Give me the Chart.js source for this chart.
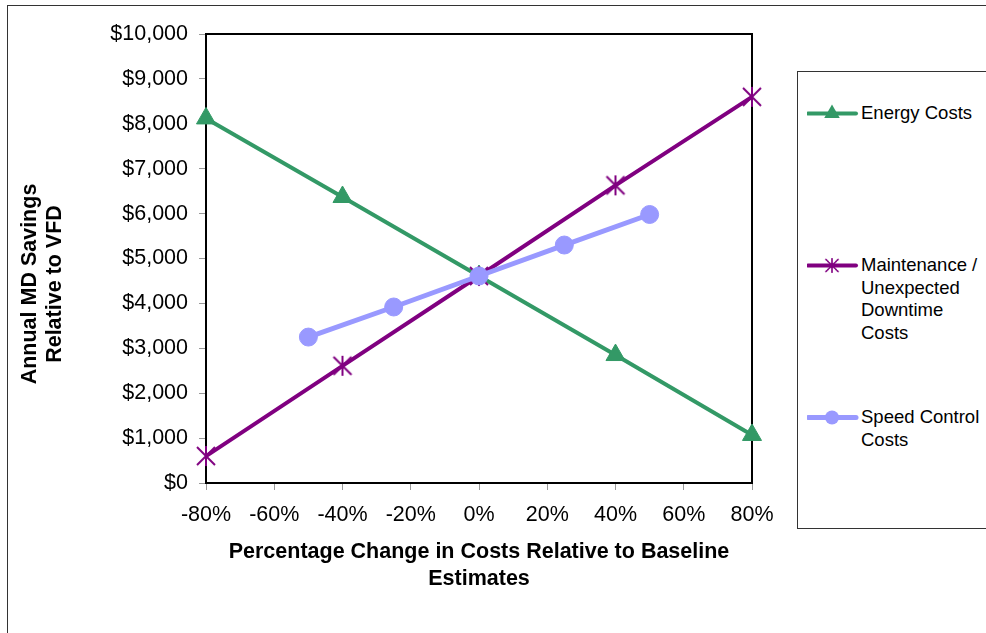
<!DOCTYPE html>
<html>
<head>
<meta charset="utf-8">
<script src="https://cdn.jsdelivr.net/npm/chart.js@4.4.1/dist/chart.umd.min.js"></script>
<style>
  html, body { margin: 0; padding: 0; background: #fff; overflow: hidden; }
  #wrap { position: relative; width: 986px; height: 633px; font-family: 'Liberation Sans', Arial, sans-serif; }
  #frame { position: absolute; left: 7px; top: 5px; width: 1000px; height: 700px; border: 1.5px solid #333; box-sizing: border-box; }
  #chart { position: absolute; left: 0; top: 0; }
  #legend { position: absolute; left: 797px; top: 71px; width: 220px; height: 456px; border: 1px solid #333; background: #fff; }
  .item { position: absolute; left: 9px; display: flex; align-items: flex-start; }
  .item canvas { flex: none; }
  .item span { font-size: 18.5px; line-height: 22.7px; color: #000; }
</style>
</head>
<body>
<div id="wrap">
  <div id="frame"></div>
  <canvas id="chart" width="986" height="633"></canvas>
  <div id="legend"></div>
</div>
<script>
// x positions (% change) and annual savings ($)
const xMain = [-80, -40, 0, 40, 80];
const xSpeed = [-50, -25, 0, 25, 50];
const energyCosts = [8120, 6370, 4610, 2850, 1070];
const maintenanceCosts = [600, 2610, 4610, 6630, 8600];
const speedControlCosts = [3250, 3920, 4610, 5300, 5980];
const seriesNames = ['Energy Costs', 'Maintenance /\nUnexpected\nDowntime\nCosts', 'Speed Control\nCosts'];
const xTitle = ['Percentage Change in Costs Relative to Baseline', 'Estimates'];
const yTitle = ['Annual MD Savings', 'Relative to VFD'];

const FONT = "'Liberation Sans', Arial, sans-serif";
const GREEN = '#339966', PURPLE = '#800080', LILAC = '#9999FF';

function starMarker(color) {
    const c = document.createElement('canvas');
    c.width = 22; c.height = 22;
    const g = c.getContext('2d');
    g.strokeStyle = color;
    g.lineWidth = 2;
    g.beginPath();
    g.moveTo(2, 2); g.lineTo(20, 20);
    g.moveTo(20, 2); g.lineTo(2, 20);
    g.moveTo(11, 1); g.lineTo(11, 21);
    g.stroke();
    return c;
}
const star = starMarker(PURPLE);

const pts = (xs, ys) => xs.map((x, i) => ({ x: x, y: ys[i] }));

const series = [
    { label: seriesNames[0], data: pts(xMain, energyCosts), color: GREEN, width: 4, style: 'triangle', radius: 11, order: 3 },
    { label: seriesNames[1], data: pts(xMain, maintenanceCosts), color: PURPLE, width: 4, style: star, radius: 11, order: 2 },
    { label: seriesNames[2], data: pts(xSpeed, speedControlCosts), color: LILAC, width: 5, style: 'circle', radius: 9, order: 1 }
];

// frame around the plot area, under the markers
const plotFrame = {
    id: 'plotFrame',
    beforeDatasetsDraw(chart) {
        const { ctx, chartArea: a } = chart;
        ctx.save();
        ctx.strokeStyle = '#000';
        ctx.lineWidth = 2;
        ctx.strokeRect(a.left, a.top, a.right - a.left, a.bottom - a.top);
        ctx.restore();
    }
};

// y title drawn by hand so it sits where the original does
const yTitlePlugin = {
    id: 'yTitlePlugin',
    afterDraw(chart) {
        const ctx = chart.ctx;
        ctx.save();
        ctx.translate(30, 284);
        ctx.rotate(-Math.PI / 2);
        ctx.font = 'bold 21.5px ' + FONT;
        ctx.fillStyle = '#000';
        ctx.textAlign = 'center';
        ctx.textBaseline = 'middle';
        yTitle.forEach((t, i) => ctx.fillText(t, 0, i * 25));
        ctx.restore();
    }
};

new Chart(document.getElementById('chart'), {
    type: 'line',
    data: {
        datasets: series.map(s => ({
            label: s.label,
            data: s.data,
            borderColor: s.color,
            backgroundColor: s.color,
            borderWidth: s.width,
            pointStyle: s.style,
            pointRadius: s.radius,
            pointHoverRadius: s.radius,
            pointBorderWidth: 1,
            tension: 0,
            fill: false,
            clip: false,
            order: s.order
        }))
    },
    options: {
        responsive: false,
        animation: false,
        events: [],
        layout: { padding: { left: 10, top: 34, right: 234, bottom: 0 } },
        plugins: { legend: { display: false }, tooltip: { enabled: false } },
        scales: {
            x: {
                type: 'linear',
                min: -80, max: 80,
                afterFit: s => { s.height = 150; },
                border: { display: false },
                grid: { drawOnChartArea: false, drawTicks: true, tickLength: 7, color: '#999' },
                ticks: { stepSize: 20, padding: 12, color: '#000', font: { family: FONT, size: 21.5 }, callback: v => v + '%', maxRotation: 0 },
                title: { display: true, text: xTitle, color: '#000', font: { family: FONT, size: 21.5, weight: 'bold', lineHeight: 1.256 }, padding: { top: 0, bottom: 40 } }
            },
            y: {
                min: 0, max: 10000,
                afterFit: s => { s.width = 196; },
                border: { display: false },
                grid: { drawOnChartArea: false, drawTicks: true, tickLength: 7, color: '#999' },
                ticks: { stepSize: 1000, padding: 11, color: '#000', font: { family: FONT, size: 21.5 }, callback: v => '$' + v.toLocaleString('en-US') }
            }
        }
    },
    plugins: [plotFrame, yTitlePlugin]
});

// legend box
const tops = [30, 182, 334];
const legend = document.getElementById('legend');
series.forEach((s, i) => {
    const item = document.createElement('div');
    item.className = 'item';
    item.style.top = tops[i] + 'px';
    const c = document.createElement('canvas');
    c.width = 54; c.height = 23;
    const g = c.getContext('2d');
    g.strokeStyle = s.color;
    g.lineWidth = s.width;
    g.lineCap = 'round';
    g.beginPath(); g.moveTo(1, 11.5); g.lineTo(49, 11.5); g.stroke();
    g.fillStyle = s.color;
    if (s.style === 'triangle') {
        const r = 9;
        g.beginPath();
        g.moveTo(25, 11.5 - r);
        g.lineTo(25 + r * 0.866, 11.5 + r / 2);
        g.lineTo(25 - r * 0.866, 11.5 + r / 2);
        g.closePath(); g.fill();
    } else if (s.style === 'circle') {
        g.beginPath(); g.arc(25, 11.5, 7, 0, Math.PI * 2); g.fill();
    } else {
        g.drawImage(s.style, 25 - 8, 11.5 - 8, 16, 16);
    }
    const span = document.createElement('span');
    span.innerHTML = s.label.split('\n').join('<br>');
    item.appendChild(c);
    item.appendChild(span);
    legend.appendChild(item);
});
</script>
</body>
</html>
